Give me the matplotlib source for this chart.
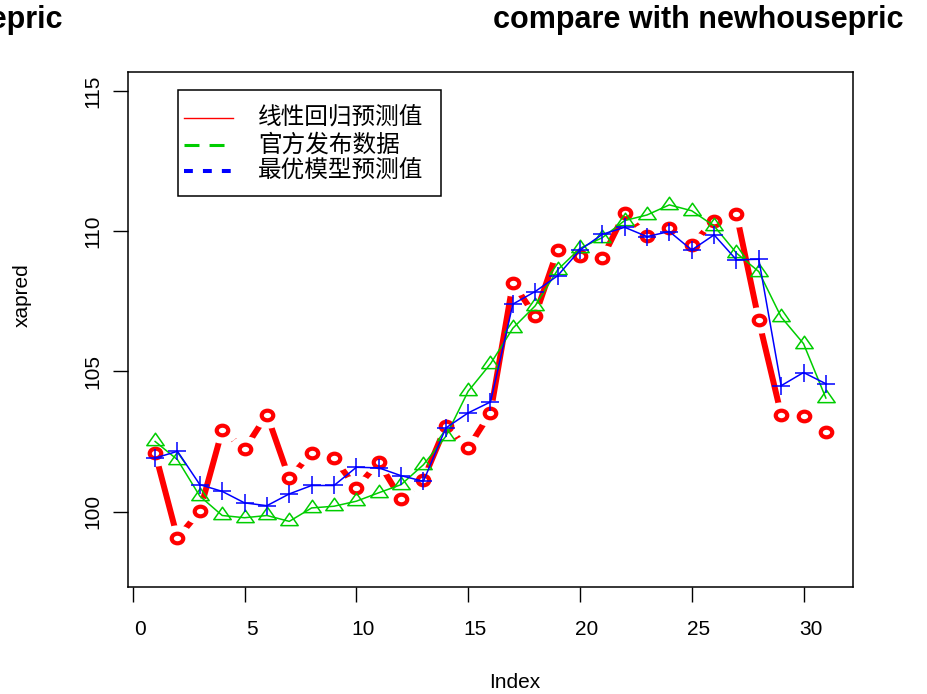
import matplotlib
matplotlib.use('Agg')
import matplotlib.pyplot as plt
import matplotlib.transforms as mtransforms
from matplotlib.path import Path
from matplotlib.lines import Line2D
from matplotlib.patches import Rectangle

W, H = 928, 694
DPI = 100

index = list(range(1, 32))
linear_pred = [102.09, 99.06, 100.01, 102.90, 102.23, 103.46, 101.18, 102.10, 101.90, 100.84,
               101.76, 100.45, 101.14, 103.04, 102.27, 103.52, 108.15, 106.99, 109.33, 109.10,
               109.04, 110.64, 109.83, 110.11, 109.51, 110.38, 110.62, 106.82, 103.46, 103.40,
               102.83]
official = [102.50, 101.85, 100.55, 99.86, 99.78, 99.86, 99.65, 100.13, 100.19, 100.37,
            100.67, 100.96, 101.67, 102.68, 104.29, 105.27, 106.54, 107.34, 108.62, 109.39,
            109.77, 110.38, 110.58, 110.94, 110.73, 110.19, 109.22, 108.56, 106.94, 105.99,
            104.05]
best_pred = [101.91, 102.15, 100.96, 100.72, 100.31, 100.21, 100.63, 100.93, 100.93, 101.58,
             101.56, 101.28, 101.08, 102.98, 103.52, 103.91, 107.40, 107.85, 108.41, 109.33,
             109.89, 110.14, 109.81, 109.99, 109.33, 109.87, 108.98, 109.00, 104.49, 104.96,
             104.56]
x_ticks = [0, 5, 10, 15, 20, 25, 30]
y_ticks = [100, 105, 110, 115]
y_range = (98, 115)
legend_labels = ['线性回归预测值', '官方发布数据', '最优模型预测值']
title = 'compare with newhousepric'

COL_RED = '#FF0000'
COL_GREEN = '#00CD00'
COL_BLUE = '#0000FF'
LABEL_SIZE = 15
TITLE_SIZE = 22

plt.rcParams['font.family'] = ['Liberation Sans', 'DejaVu Sans']


def fx(x):
    return x / W


def fy(y):
    return 1 - y / H


# the reference is stretched sideways a bit, so circles and triangles are wide
ring = Path.unit_circle().transformed(mtransforms.Affine2D().scale(1.2, 1))
gap = Path.unit_circle().transformed(mtransforms.Affine2D().scale(1.27, 1))
tri = Path([(0, 2), (2.1, -1), (-2.1, -1), (0, 2)],
           [Path.MOVETO, Path.LINETO, Path.LINETO, Path.CLOSEPOLY])

fig = plt.figure(figsize=(W / DPI, H / DPI), dpi=DPI)
ax = fig.add_axes([fx(128.3), fy(586.7), (852.7 - 128.3) / W, (586.7 - 72) / H])

# red: type "b" style, thick line with gaps round the points
ax.plot(index, linear_pred, color=COL_RED, lw=4.3, solid_capstyle='butt', zorder=2)
ax.plot(index, linear_pred, ls='none', marker=gap, markersize=24,
        mfc='white', mec='none', zorder=2.1)
ax.plot(index, linear_pred, ls='none', marker=ring, markersize=8.3,
        mfc='none', mec=COL_RED, mew=3.0, zorder=2.2)

ax.plot(index, official, color=COL_GREEN, lw=1.1, marker=tri, markersize=12.5,
        mfc='none', mec=COL_GREEN, mew=1.1, zorder=3)
ax.plot(index, best_pred, color=COL_BLUE, lw=1.1, marker='+', markersize=12.5,
        mew=1.1, zorder=4)

n = len(index)
pad_x = 0.04 * (n - 1)
pad_y = 0.04 * (y_range[1] - y_range[0])
ax.set_xlim(1 - pad_x, n + pad_x)
ax.set_ylim(y_range[0] - pad_y, y_range[1] + pad_y)

ax.set_xticks(x_ticks)
ax.set_yticks(y_ticks)
ax.tick_params(direction='out', length=10.8, width=1, labelsize=LABEL_SIZE, color='black')
ax.tick_params(axis='x', pad=13)
ax.tick_params(axis='y', pad=8)
for lbl in ax.get_yticklabels():
    lbl.set_rotation(90)
    lbl.set_va('center')
shift = mtransforms.ScaledTranslation(7 / DPI, 0, fig.dpi_scale_trans)
for t in ax.xaxis.get_major_ticks():
    t.label1.set_transform(t.label1.get_transform() + shift)

for s in ax.spines.values():
    s.set_linewidth(1.1)
    s.set_color('black')

ax.set_xlabel('Index', fontsize=LABEL_SIZE)
ax.xaxis.label.set_va('center')
ax.xaxis.set_label_coords((515 - 128.3) / 724.4, (586.7 - 683) / 514.7)
ax.set_ylabel('xapred', fontsize=LABEL_SIZE)
ax.yaxis.label.set_va('center')
ax.yaxis.set_label_coords((22 - 128.3) / 724.4, (586.7 - 295) / 514.7)

# titles, both cut off by the picture edges
fig.text(fx(493), fy(20), title, fontsize=TITLE_SIZE, fontweight='bold', ha='left', va='center')
fig.text(fx(62), fy(20), title, fontsize=TITLE_SIZE, fontweight='bold', ha='right', va='center')

# legend, drawn by hand (its line styles differ from the plotted lines)
fig.patches.append(Rectangle((fx(178), fy(196)), (441 - 178) / W, (196 - 90) / H,
                             transform=fig.transFigure, facecolor='white',
                             edgecolor='black', lw=1.1, zorder=5))
leg_y = [118, 145, 171]
fig.lines.append(Line2D([fx(184), fx(233)], [fy(leg_y[0])] * 2, color=COL_RED, lw=1.0,
                        transform=fig.transFigure, zorder=6))
fig.lines.append(Line2D([fx(184), fx(229)], [fy(leg_y[1])] * 2, color=COL_GREEN, lw=2.2,
                        dashes=(4.9, 3.3), transform=fig.transFigure, zorder=6))
fig.lines.append(Line2D([fx(184), fx(233)], [fy(leg_y[2])] * 2, color=COL_BLUE, lw=2.9,
                        dashes=(2.2, 2.5), transform=fig.transFigure, zorder=6))
for lab, y in zip(legend_labels, leg_y):
    fig.text(fx(258), fy(y), lab, fontsize=17, ha='left', va='center',
             family=['Noto Sans CJK SC', 'DejaVu Sans'], zorder=6)

fig.savefig('out.png', dpi=DPI)
